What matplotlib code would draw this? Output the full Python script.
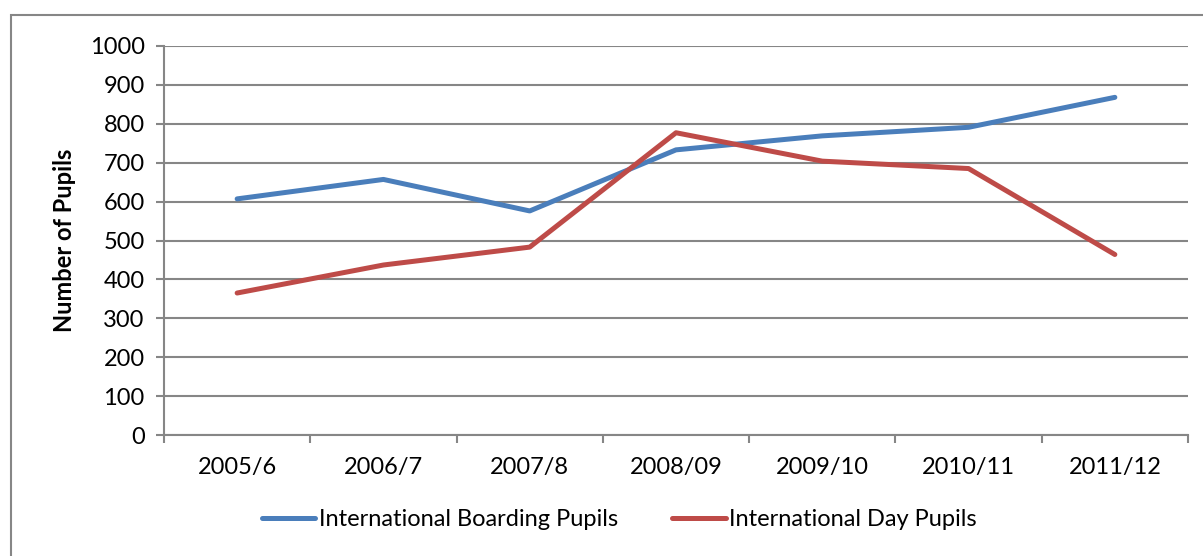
import matplotlib.pyplot as plt
import matplotlib.patches as patches

years = ["2005/6", "2006/7", "2007/8", "2008/09", "2009/10", "2010/11", "2011/12"]
boarding = [607, 657, 576, 733, 769, 791, 868]
day = [365, 437, 483, 777, 704, 685, 464]

blue = "#4A7EBB"
red = "#BE4B48"
grey = "#868686"

plt.rcParams["font.family"] = ["Lato", "DejaVu Sans"]

fig = plt.figure(figsize=(12.03, 5.56), dpi=100)
ax = fig.add_axes([164 / 1203, 1 - 435 / 556, 1024 / 1203, 389 / 556])

# chart frame (runs off the right and bottom edge like the screenshot)
frame = patches.Rectangle((11 / 1203, -0.05), 1.2, 1 - 15 / 556 + 0.05,
                          transform=fig.transFigure, fill=False,
                          edgecolor=grey, linewidth=1.5)
fig.patches.append(frame)

x = list(range(len(years)))
ax.plot(x, boarding, color=blue, linewidth=3.6, solid_capstyle="round",
        label="International Boarding Pupils")
ax.plot(x, day, color=red, linewidth=3.6, solid_capstyle="round",
        label="International Day Pupils")

ax.set_xlim(-0.5, len(years) - 0.5)
ax.set_ylim(0, 1000)
ax.set_yticks(range(0, 1001, 100))
ax.yaxis.grid(True, color=grey, linewidth=1.5)
ax.set_axisbelow(True)

ax.set_xticks(x)
ax.set_xticklabels(years, fontsize=17)
ax.set_xticks([i - 0.5 for i in range(len(years) + 1)], minor=True)
ax.tick_params(axis="x", which="major", length=0, pad=16)
ax.tick_params(axis="x", which="minor", length=6, width=1.5, color=grey)
ax.tick_params(axis="y", length=6, width=1.5, color=grey, labelsize=17, pad=8)

for side in ["top", "right"]:
    ax.spines[side].set_visible(False)
for side in ["left", "bottom"]:
    ax.spines[side].set_color(grey)
    ax.spines[side].set_linewidth(1.5)

ax.set_ylabel("Number of Pupils", fontsize=17, fontweight="bold", labelpad=10)

fig.legend(loc="center", bbox_to_anchor=(0.515, 1 - 520 / 556), ncol=2,
           frameon=False, fontsize=17, handlelength=2.25, handletextpad=0.15,
           columnspacing=2.3)

fig.savefig("out.png", dpi=100)
